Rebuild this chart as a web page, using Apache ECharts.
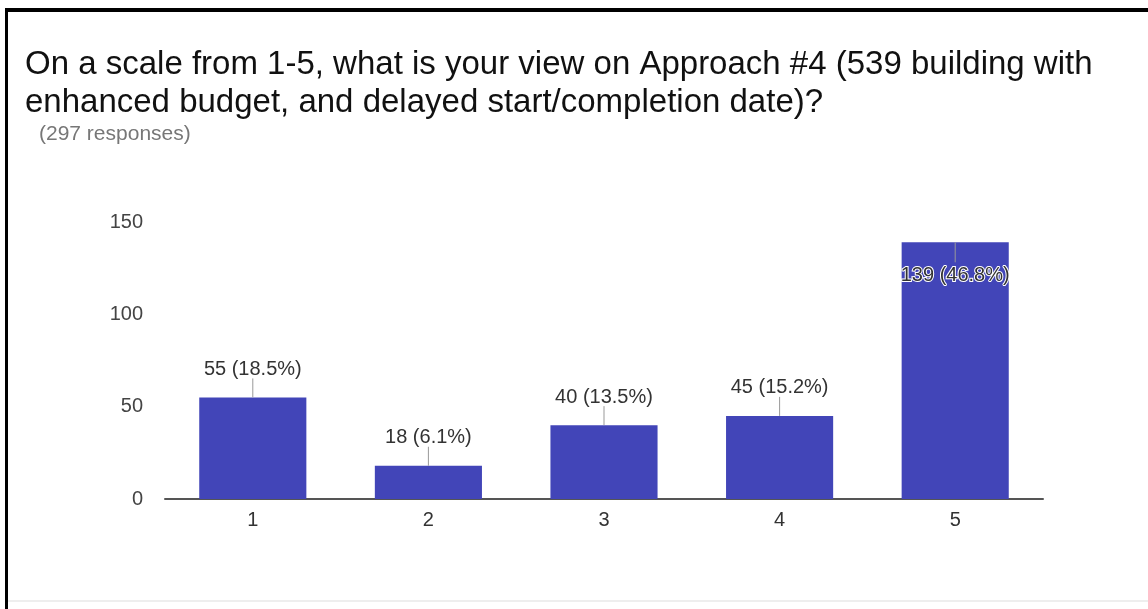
<!DOCTYPE html>
<html>
<head>
<meta charset="utf-8">
<script src="https://cdn.jsdelivr.net/npm/echarts@6/dist/echarts.min.js"></script>
<style>
  html, body { margin: 0; padding: 0; background: #fff; }
  #chart { position: absolute; left: 0; top: 0; width: 1148px; height: 609px; }
  .frame { position: absolute; left: 5px; top: 8px; width: 1143px; height: 601px;
           border-top: 4px solid #000; border-left: 3px solid #000; box-sizing: border-box; }
  .foot { position: absolute; left: 8px; top: 600px; width: 1140px; height: 2px; background: #eeeeee; }
</style>
</head>
<body>
<div id="chart"></div>
<div class="frame"></div>
<div class="foot"></div>
<script>
// answers on the 1-5 scale
const categories = ['1', '2', '3', '4', '5']
const counts = [55, 18, 40, 45, 139]
const percents = [18.5, 6.1, 13.5, 15.2, 46.8]
const yTicks = [0, 50, 100, 150]

const chart = echarts.init(document.getElementById('chart'))

const font = '"Liberation Sans", Arial, sans-serif'

chart.setOption({
  animation: false,
  title: [
    {
      text: 'On a scale from 1-5, what is your view on Approach #4 (539 building with\nenhanced budget, and delayed start/completion date)?',
      left: 20,
      top: 41,
      textStyle: { fontSize: 33, fontWeight: 'normal', color: '#111', fontFamily: font, lineHeight: 38 }
    },
    {
      text: '(297 responses)',
      left: 34,
      top: 119,
      textStyle: { fontSize: 21, fontWeight: 'normal', color: '#777', fontFamily: font }
    }
  ],
  grid: { left: 165, right: 105, top: 222, bottom: 110 },
  xAxis: {
    type: 'category',
    data: categories,
    axisLine: { lineStyle: { color: '#555', width: 2 } },
    axisTick: { show: false },
    axisLabel: { color: '#333', fontSize: 20, fontFamily: font, margin: 11 }
  },
  yAxis: {
    type: 'value',
    min: yTicks[0],
    max: yTicks[yTicks.length - 1],
    interval: 50,
    splitLine: { show: false },
    axisLine: { show: false },
    axisTick: { show: false },
    axisLabel: { color: '#444', fontSize: 20, fontFamily: font, margin: 22 }
  },
  series: [
    {
      type: 'bar',
      data: counts,
      barWidth: '61%',
      itemStyle: { color: '#4245b8' }
    },
    {
      // leader line + value label for every bar
      type: 'custom',
      data: counts.map((v, i) => [i, v]),
      z: 5,
      renderItem: function (params, api) {
        const i = api.value(0)
        const v = api.value(1)
        const p = api.coord([i, v])
        const text = v + ' (' + percents[i] + '%)'
        const gridTop = params.coordSys.y
        const inside = p[1] - 40 < gridTop
        if (inside) {
          return {
            type: 'group',
            children: [
              { type: 'line', shape: { x1: p[0], y1: p[1], x2: p[0], y2: p[1] + 20 },
                style: { stroke: '#999', lineWidth: 1 } },
              { type: 'text', x: p[0], y: p[1] + 33,
                style: { text: text, fill: '#333', fontSize: 20, fontFamily: font,
                         align: 'center', verticalAlign: 'middle', stroke: '#fff', lineWidth: 2 } }
            ]
          }
        }
        return {
          type: 'group',
          children: [
            { type: 'line', shape: { x1: p[0], y1: p[1], x2: p[0], y2: p[1] - 19 },
              style: { stroke: '#999', lineWidth: 1 } },
            { type: 'text', x: p[0], y: p[1] - 28,
              style: { text: text, fill: '#333', fontSize: 20, fontFamily: font,
                       align: 'center', verticalAlign: 'middle' } }
          ]
        }
      }
    }
  ]
})
</script>
</body>
</html>
